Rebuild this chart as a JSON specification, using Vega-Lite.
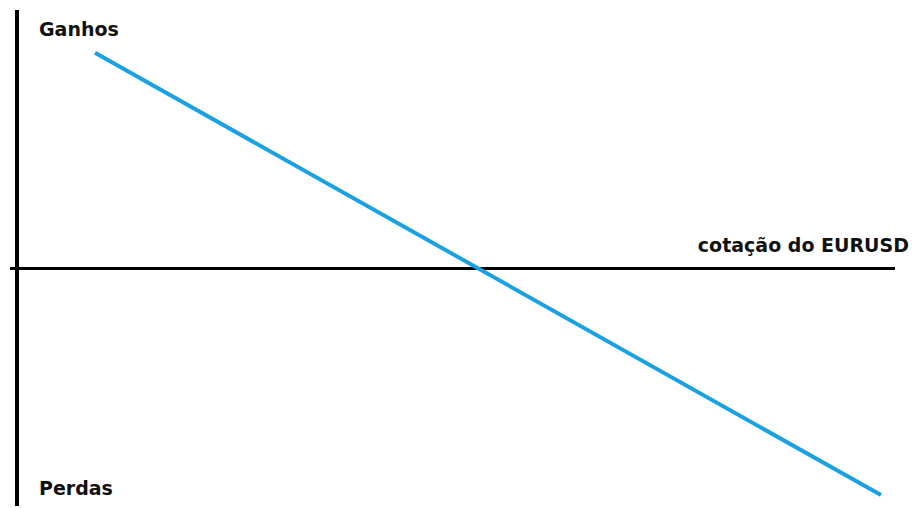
{
  "$schema": "https://vega.github.io/schema/vega-lite/v6.json",
  "width": 912,
  "height": 508,
  "autosize": {"type": "fit", "contains": "padding"},
  "padding": 0,
  "background": "white",
  "config": {"view": {"stroke": null}},
  "datasets": {
    "payoff": [{"cotacao": 95, "ganho": 216}, {"cotacao": 881, "ganho": -228}],
    "eixos": [
      {"nome": "vertical", "x1": 17, "x2": 17, "y1": -239, "y2": 259},
      {"nome": "horizontal", "x1": 10, "x2": 895, "y1": -0.5, "y2": -0.5}
    ],
    "rotulos": [
      {"texto": "Ganhos", "x": 39, "y": 233, "align": "left"},
      {"texto": "Perdas", "x": 39, "y": -228, "align": "left"},
      {"texto": "cotação do EURUSD", "x": 909, "y": 16, "align": "right"}
    ]
  },
  "layer": [
    {
      "data": {"name": "eixos"},
      "transform": [{"filter": "datum.nome == 'vertical'"}],
      "mark": {"type": "rule", "color": "black", "strokeWidth": 4},
      "encoding": {
        "x": {"field": "x1", "type": "quantitative", "scale": {"domain": [0, 912], "nice": false, "zero": false}, "axis": null},
        "x2": {"field": "x2"},
        "y": {"field": "y1", "type": "quantitative", "scale": {"domain": [-239, 269], "nice": false, "zero": false}, "axis": null},
        "y2": {"field": "y2"}
      }
    },
    {
      "data": {"name": "eixos"},
      "transform": [{"filter": "datum.nome == 'horizontal'"}],
      "mark": {"type": "rule", "color": "black", "strokeWidth": 3},
      "encoding": {
        "x": {"field": "x1", "type": "quantitative", "scale": {"domain": [0, 912], "nice": false, "zero": false}, "axis": null},
        "x2": {"field": "x2"},
        "y": {"field": "y1", "type": "quantitative", "scale": {"domain": [-239, 269], "nice": false, "zero": false}, "axis": null},
        "y2": {"field": "y2"}
      }
    },
    {
      "data": {"name": "payoff"},
      "mark": {"type": "line", "color": "#1ba1e2", "strokeWidth": 4},
      "encoding": {
        "x": {"field": "cotacao", "type": "quantitative", "scale": {"domain": [0, 912], "nice": false, "zero": false}, "axis": null},
        "y": {"field": "ganho", "type": "quantitative", "scale": {"domain": [-239, 269], "nice": false, "zero": false}, "axis": null}
      }
    },
    {
      "data": {"name": "rotulos"},
      "transform": [{"filter": "datum.align == 'left'"}],
      "mark": {"type": "text", "align": "left", "baseline": "alphabetic", "font": "DejaVu Sans", "fontWeight": "bold", "fontSize": 19, "color": "#111111"},
      "encoding": {
        "x": {"field": "x", "type": "quantitative", "scale": {"domain": [0, 912], "nice": false, "zero": false}, "axis": null},
        "y": {"field": "y", "type": "quantitative", "scale": {"domain": [-239, 269], "nice": false, "zero": false}, "axis": null},
        "text": {"field": "texto"}
      }
    },
    {
      "data": {"name": "rotulos"},
      "transform": [{"filter": "datum.align == 'right'"}],
      "mark": {"type": "text", "align": "right", "baseline": "alphabetic", "font": "DejaVu Sans", "fontWeight": "bold", "fontSize": 19, "color": "#111111"},
      "encoding": {
        "x": {"field": "x", "type": "quantitative", "scale": {"domain": [0, 912], "nice": false, "zero": false}, "axis": null},
        "y": {"field": "y", "type": "quantitative", "scale": {"domain": [-239, 269], "nice": false, "zero": false}, "axis": null},
        "text": {"field": "texto"}
      }
    }
  ]
}
